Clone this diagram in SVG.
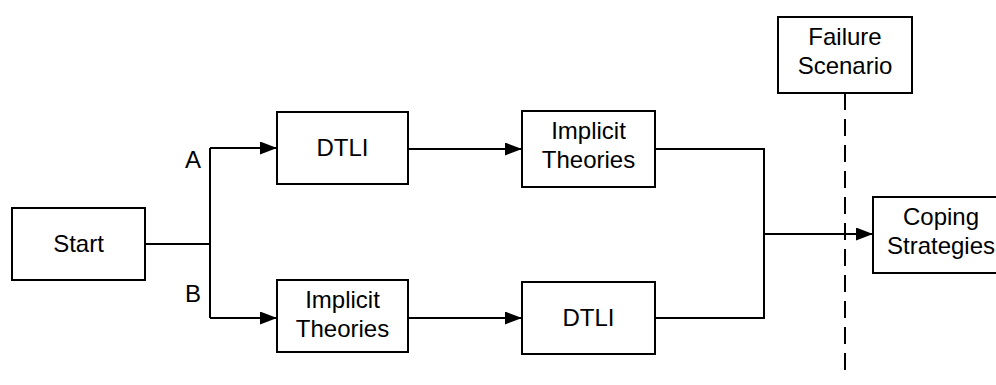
<svg xmlns="http://www.w3.org/2000/svg" width="996" height="385" viewBox="0 0 996 385">
  <style>
    .box { fill: #ffffff; stroke: #000000; stroke-width: 2; }
    .lbl { font-family: "Liberation Sans", Arial, sans-serif; font-size: 24px; fill: #000000; text-anchor: middle; }
    .wire { fill: none; stroke: #000000; stroke-width: 2; }
    .arrow { marker-end: url(#head); }
    .dash { fill: none; stroke: #000000; stroke-width: 2; stroke-dasharray: 17 9; }
  </style>
  <defs>
    <marker id="head" markerUnits="userSpaceOnUse" markerWidth="17" markerHeight="13" refX="17" refY="6.5" orient="auto">
      <path d="M0,0 L17,6.5 L0,13 Z" fill="#000000"/>
    </marker>
  </defs>
  <rect width="996" height="385" fill="#ffffff"/>

  <g id="connectors">
    <path class="wire" d="M145,244 H210"/>
    <path class="wire" d="M210,148 V318"/>
    <path class="wire arrow" d="M210,148 H277"/>
    <path class="wire arrow" d="M210,318 H277"/>
    <path class="wire arrow" d="M408,149 H522"/>
    <path class="wire arrow" d="M408,318 H522"/>
    <path class="wire" d="M655,149 H764 V318 H655"/>
    <path class="wire arrow" d="M764,234 H873"/>
    <path class="dash" d="M845,93 V378"/>
    <text class="lbl" x="193" y="168">A</text>
    <text class="lbl" x="193" y="302">B</text>
  </g>

  <g id="start">
    <rect class="box" x="12" y="208" width="133" height="72"/>
    <text class="lbl" x="78.5" y="252">Start</text>
  </g>

  <g id="dtli-a">
    <rect class="box" x="277" y="112" width="131" height="72"/>
    <text class="lbl" x="342.5" y="156">DTLI</text>
  </g>

  <g id="theories-a">
    <rect class="box" x="522" y="111" width="133" height="76"/>
    <text class="lbl" x="588.5" y="139">Implicit</text>
    <text class="lbl" x="588.5" y="168">Theories</text>
  </g>

  <g id="theories-b">
    <rect class="box" x="277" y="280" width="131" height="72"/>
    <text class="lbl" x="342.5" y="308">Implicit</text>
    <text class="lbl" x="342.5" y="337">Theories</text>
  </g>

  <g id="dtli-b">
    <rect class="box" x="522" y="282" width="133" height="72"/>
    <text class="lbl" x="588.5" y="326">DTLI</text>
  </g>

  <g id="failure">
    <rect class="box" x="778" y="17" width="134" height="76"/>
    <text class="lbl" x="845" y="45">Failure</text>
    <text class="lbl" x="845" y="74">Scenario</text>
  </g>

  <g id="coping">
    <rect class="box" x="873" y="197" width="134" height="76"/>
    <text class="lbl" x="941" y="225">Coping</text>
    <text class="lbl" x="941" y="254">Strategies</text>
  </g>
</svg>
